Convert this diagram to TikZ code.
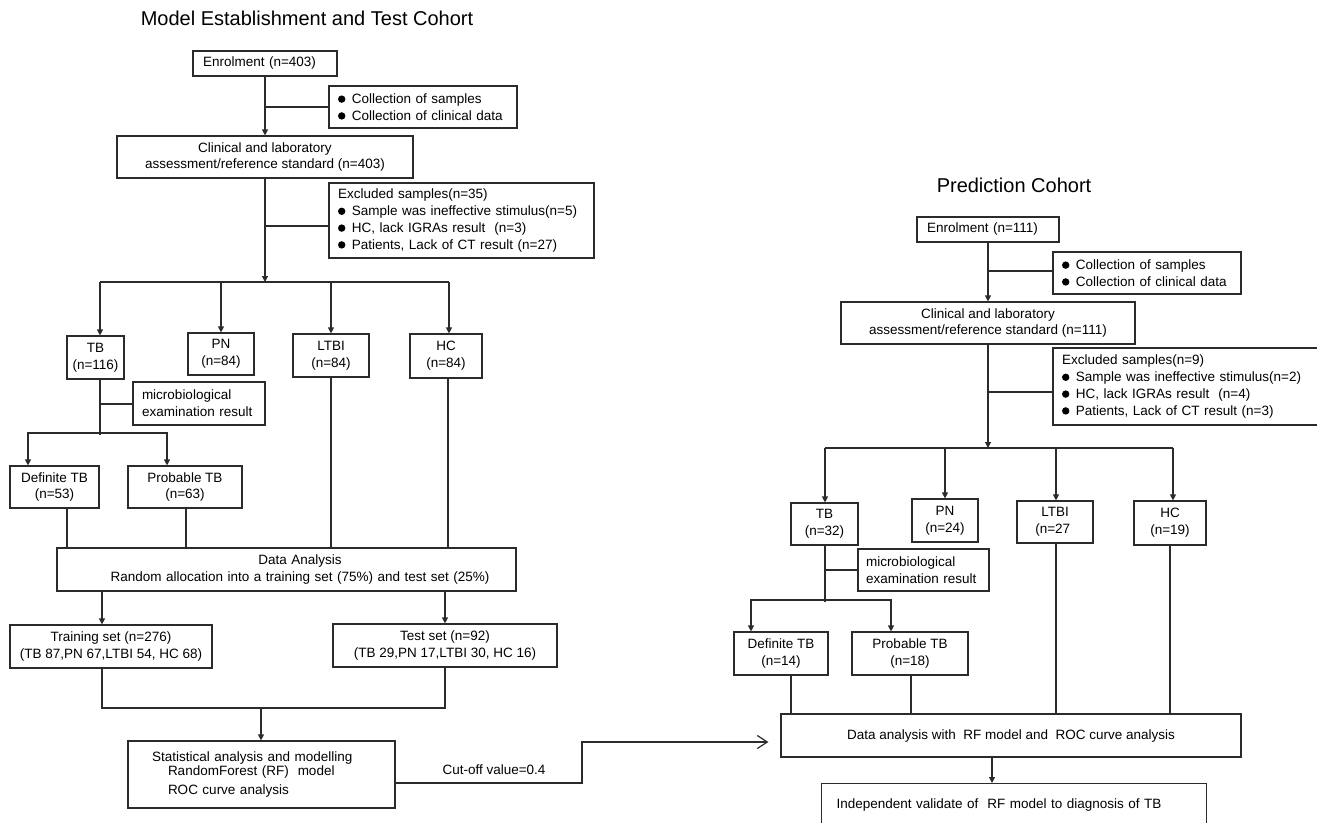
\documentclass[tikz,border=0pt]{standalone}
\usepackage{fontspec}
\setmainfont{Liberation Sans}
\usetikzlibrary{arrows.meta}
\definecolor{lc}{HTML}{2B2B2B}
\newcommand\fs{\fontsize{13.5pt}{16.8pt}\selectfont}
\newcommand\bul{\tikz[baseline=0pt]\fill[black] (3.7pt,4.3pt) circle (3.7pt);\hspace{6.5pt}}
\begin{document}
\begin{tikzpicture}[x=1pt,y=-1pt,
  box/.style={draw=lc, line width=1.2pt, inner sep=0pt, align=center, font=\fs, text=black},
  lbox/.style={box, align=left},
  con/.style={draw=lc, line width=1.2pt},
  arr/.style={con, -{Triangle[length=6pt,width=6pt]}},
  cutarr/.style={con, -{Straight Barb[length=10pt,width=13pt,line width=1.2pt]}, shorten >=12pt},
  ttl/.style={font=\fontsize{20pt}{24pt}\selectfont, inner sep=0pt},
  lbl/.style={font=\fs, inner sep=0pt}]
\useasboundingbox (0,0) rectangle (1317,822);
\fill[white] (0,0) rectangle (1317,822);
\clip (0,0) rectangle (1317,822);

% ---------------- Left cohort ----------------
\node[ttl] (titleL) at (307,18) {Model Establishment and Test Cohort};
\node[lbox, minimum width=144pt, minimum height=25pt, inner xsep=10pt, text width=124pt] (enrolL) at (265,63.5) {Enrolment (n=403)};
\node[lbox, minimum width=188pt, minimum height=42pt, inner xsep=9pt, text width=170pt] (collL) at (423,107) {\bul Collection of samples\\\bul Collection of clinical data};
\node[box, minimum width=296pt, minimum height=42pt] (clinL) at (265,157) {Clinical and laboratory\\assessment/reference standard (n=403)};
\node[lbox, minimum width=265pt, minimum height=75pt, inner xsep=9pt, text width=247pt] (exclL) at (461.5,220.5) {Excluded samples(n=35)\\\bul Sample was ineffective stimulus(n=5)\\\bul HC, lack IGRAs result\ \ (n=3)\\\bul Patients, Lack of CT result (n=27)};
\node[box, minimum width=57pt, minimum height=43pt] (tbL) at (95.5,357.5) {TB\\(n=116)};
\node[box, minimum width=66pt, minimum height=42pt] (pnL) at (221,354) {PN\\(n=84)};
\node[box, minimum width=76pt, minimum height=43pt] (ltbiL) at (331,355.5) {LTBI\\(n=84)};
\node[box, minimum width=72pt, minimum height=44pt] (hcL) at (446,356) {HC\\(n=84)};
\node[lbox, minimum width=132pt, minimum height=43pt, inner xsep=9pt, text width=114pt] (microL) at (199,403.5) {microbiological\\examination result};
\node[box, minimum width=89pt, minimum height=42pt] (defL) at (54.5,487) {Definite TB\\(n=53)};
\node[box, minimum width=114pt, minimum height=42pt] (probL) at (185,487) {Probable TB\\(n=63)};
\node[box, minimum width=459pt, minimum height=43pt, text width=459pt] (dataL) at (286.5,569.5) {\hspace*{27pt}Data Analysis\\\hspace*{27pt}Random allocation into a training set (75\%) and test set (25\%)};
\node[box, minimum width=202pt, minimum height=43pt] (trainL) at (111,646.5) {Training set (n=276)\\(TB 87,PN 67,LTBI 54, HC 68)};
\node[box, minimum width=224pt, minimum height=43pt] (testL) at (445,645.5) {Test set (n=92)\\(TB 29,PN 17,LTBI 30, HC 16)};
\node[lbox, minimum width=267pt, minimum height=67pt, inner xsep=24pt, text width=219pt] (statL) at (261.5,774.5) {Statistical analysis and modelling\\[-2.8pt]\hspace*{16pt}RandomForest (RF)\ \ model\\[2.2pt]\hspace*{16pt}ROC curve analysis};
\node[lbl] (cutlbl) at (494,770) {Cut-off value=0.4};

\coordinate (bL1) at (100,282);
\coordinate (bL4) at (449,282);
\coordinate (sbL) at (100,433);
\coordinate (sbLa) at (28,433);
\coordinate (sbLb) at (167,433);
\coordinate (mg) at (261,708);
\coordinate (ck) at (582,742);

\draw[arr] (enrolL.south) -- (clinL.north);
\draw[con] (collL.west) -- (collL.west -| enrolL.south);
\draw[arr] (clinL.south) -- (clinL.south |- bL1);
\draw[con] ([yshift=-5.5pt]exclL.west) -- ([yshift=-5.5pt]exclL.west -| clinL.south);
\draw[con] (bL1) -- (bL4);
\draw[arr] (bL1) -- (bL1 |- tbL.north);
\draw[arr] (pnL.north |- bL1) -- (pnL.north);
\draw[arr] (ltbiL.north |- bL1) -- (ltbiL.north);
\draw[arr] (bL4) -- (bL4 |- hcL.north);
\draw[con] (bL1 |- tbL.south) -- ([yshift=-2pt]sbL);
\draw[con] ([yshift=-0.5pt]microL.west) -- ([yshift=-0.5pt]microL.west -| sbL);
\draw[arr] (sbL) -- (sbLa) -- (sbLa |- defL.north);
\draw[arr] (sbL) -- (sbLb) -- (sbLb |- probL.north);
\draw[con] ([xshift=12.5pt]defL.south) -- ([xshift=12.5pt]defL.south |- dataL.north);
\draw[con] ([xshift=1pt]probL.south) -- ([xshift=1pt]probL.south |- dataL.north);
\draw[con] (ltbiL.south) -- (ltbiL.south |- dataL.north);
\draw[con] ([xshift=2pt]hcL.south) -- ([xshift=2pt]hcL.south |- dataL.north);
\draw[arr] ([xshift=-9pt]trainL.north |- dataL.south) -- ([xshift=-9pt]trainL.north);
\draw[arr] (testL.north |- dataL.south) -- (testL.north);
\draw[con] ([xshift=-9pt]trainL.south) |- (mg) -| (testL.south);
\draw[arr] (mg) -- (mg |- statL.north);

% ---------------- Right cohort ----------------
\node[ttl] (titleR) at (1014,185) {Prediction Cohort};
\node[lbox, minimum width=142pt, minimum height=25pt, inner xsep=10pt, text width=122pt] (enrolR) at (988,229.5) {Enrolment (n=111)};
\node[lbox, minimum width=188pt, minimum height=42pt, inner xsep=9pt, text width=170pt] (collR) at (1147,273) {\bul Collection of samples\\\bul Collection of clinical data};
\node[box, minimum width=294pt, minimum height=42pt] (clinR) at (988,323) {Clinical and laboratory\\assessment/reference standard (n=111)};
\node[lbox, minimum width=277pt, minimum height=77pt, inner xsep=9pt, text width=259pt] (exclR) at (1191.5,386.5) {Excluded samples(n=9)\\\bul Sample was ineffective stimulus(n=2)\\\bul HC, lack IGRAs result\ \ (n=4)\\\bul Patients, Lack of CT result (n=3)};
\node[box, minimum width=67pt, minimum height=42pt] (tbR) at (824.5,524) {TB\\(n=32)};
\node[box, minimum width=66pt, minimum height=43pt] (pnR) at (945,520.5) {PN\\(n=24)};
\node[box, minimum width=76pt, minimum height=42pt] (ltbiR) at (1055,522) {LTBI\\(n=27\phantom{)}};
\node[box, minimum width=72pt, minimum height=44pt] (hcR) at (1170,523) {HC\\(n=19)};
\node[lbox, minimum width=131pt, minimum height=42pt, inner xsep=8pt, text width=115pt] (microR) at (923.5,570) {microbiological\\examination result};
\node[box, minimum width=94pt, minimum height=43pt] (defR) at (781,653.5) {Definite TB\\(n=14)};
\node[box, minimum width=116pt, minimum height=43pt] (probR) at (910,653.5) {Probable TB\\(n=18)};
\node[box, minimum width=460pt, minimum height=43pt] (dataR) at (1011,735.5) {Data analysis with\ \ RF model and\ \ ROC curve analysis};
\node[lbox, anchor=north west, minimum width=385pt, inner xsep=15pt, inner ysep=15pt, text width=355pt, text depth=30pt] (indep) at (821,783) {Independent validate of\ \ RF model to diagnosis of TB};

\coordinate (bR1) at (825,448);
\coordinate (bR4) at (1173,448);
\coordinate (sbR) at (825,600);
\coordinate (sbRa) at (751,600);
\coordinate (sbRb) at (891,600);

\draw[arr] (enrolR.south) -- (clinR.north);
\draw[con] ([yshift=2pt]collR.west) -- ([yshift=2pt]collR.west -| enrolR.south);
\draw[arr] (clinR.south) -- (clinR.south |- bR1);
\draw[con] ([yshift=-5.5pt]exclR.west) -- ([yshift=-5.5pt]exclR.west -| clinR.south);
\draw[con] (bR1) -- (bR4);
\draw[arr] (bR1) -- (bR1 |- tbR.north);
\draw[arr] (pnR.north |- bR1) -- (pnR.north);
\draw[arr] ([xshift=1pt]ltbiR.north |- bR1) -- ([xshift=1pt]ltbiR.north);
\draw[arr] (bR4) -- (bR4 |- hcR.north);
\draw[con] (bR1 |- tbR.south) -- ([yshift=-2pt]sbR);
\draw[con] (microR.west) -- (microR.west -| sbR);
\draw[arr] (sbR) -- (sbRa) -- (sbRa |- defR.north);
\draw[arr] (sbR) -- (sbRb) -- (sbRb |- probR.north);
\draw[con] ([xshift=10pt]defR.south) -- ([xshift=10pt]defR.south |- dataR.north);
\draw[con] ([xshift=1pt]probR.south) -- ([xshift=1pt]probR.south |- dataR.north);
\draw[con] ([xshift=1pt]ltbiR.south) -- ([xshift=1pt]ltbiR.south |- dataR.north);
\draw[con] (hcR.south) -- (hcR.south |- dataR.north);
\draw[arr] ([xshift=-19pt]dataR.south) -- ([xshift=-19pt]dataR.south |- indep.north);

% cut-off connector
\draw[cutarr] ([yshift=-8.5pt]statL.east) -| (ck) -- (ck -| dataR.west);
\end{tikzpicture}
\end{document}
